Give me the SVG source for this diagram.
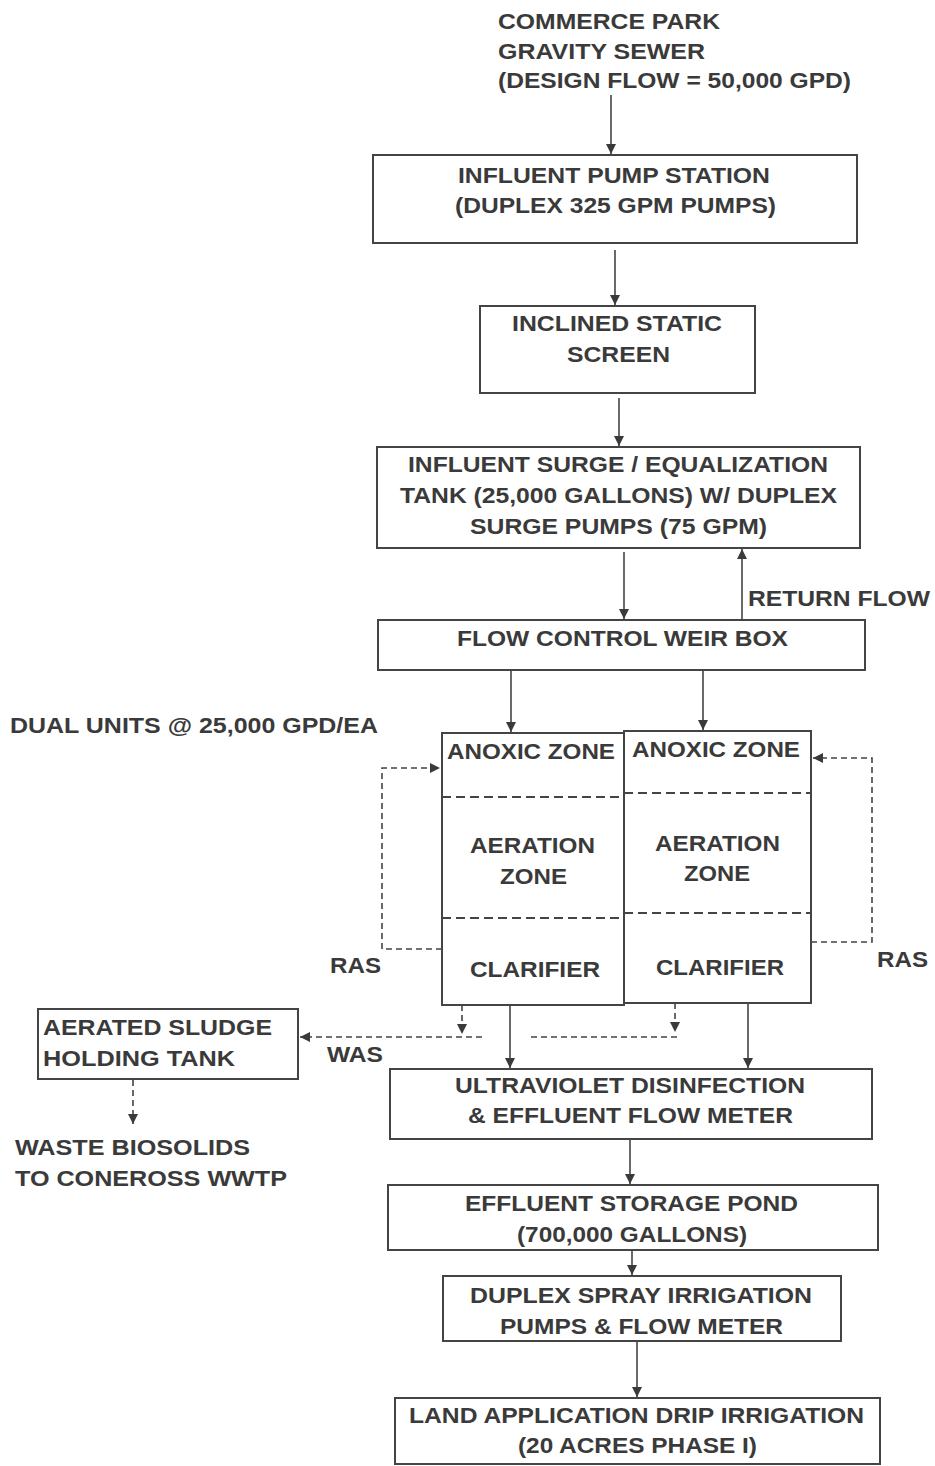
<svg xmlns="http://www.w3.org/2000/svg" width="935" height="1466" viewBox="0 0 935 1466">
<defs>
<marker id="ah" viewBox="0 0 10 10" refX="10" refY="5" markerWidth="10" markerHeight="10" markerUnits="userSpaceOnUse" orient="auto">
<path d="M0,0 L10,5 L0,10 z" fill="#3a3a3a"/>
</marker>
<style>
text{font-family:"Liberation Sans",Arial,sans-serif;font-size:22px;font-weight:700;fill:#3a3a3a}
.box{fill:#fff;stroke:#444;stroke-width:2}
.ln{fill:none;stroke:#444;stroke-width:1.6}
.dl{fill:none;stroke:#444;stroke-width:1.6;stroke-dasharray:6,4}
.zd{fill:none;stroke:#444;stroke-width:2;stroke-dasharray:9,5}
</style>
</defs>
<rect width="935" height="1466" fill="#fff"/>

<g id="source">
<text x="498" y="29" textLength="222" lengthAdjust="spacingAndGlyphs">COMMERCE PARK</text>
<text x="498" y="59" textLength="207" lengthAdjust="spacingAndGlyphs">GRAVITY SEWER</text>
<text x="498" y="88" textLength="353" lengthAdjust="spacingAndGlyphs">(DESIGN FLOW = 50,000 GPD)</text>
</g>

<g id="influent-pump-station">
<rect class="box" x="373" y="155" width="484" height="88"/>
<text x="458" y="183" textLength="312" lengthAdjust="spacingAndGlyphs">INFLUENT PUMP STATION</text>
<text x="455" y="213" textLength="321" lengthAdjust="spacingAndGlyphs">(DUPLEX 325 GPM PUMPS)</text>
</g>

<g id="static-screen">
<rect class="box" x="480" y="306" width="275" height="87"/>
<text x="512" y="331" textLength="210" lengthAdjust="spacingAndGlyphs">INCLINED STATIC</text>
<text x="567" y="362" textLength="103" lengthAdjust="spacingAndGlyphs">SCREEN</text>
</g>

<g id="surge-tank">
<rect class="box" x="377" y="447" width="483" height="101"/>
<text x="408" y="472" textLength="420" lengthAdjust="spacingAndGlyphs">INFLUENT SURGE / EQUALIZATION</text>
<text x="400" y="503" textLength="437" lengthAdjust="spacingAndGlyphs">TANK (25,000 GALLONS) W/ DUPLEX</text>
<text x="470" y="534" textLength="297" lengthAdjust="spacingAndGlyphs">SURGE PUMPS (75 GPM)</text>
</g>

<g id="weir-box">
<rect class="box" x="378" y="620" width="487" height="50"/>
<text x="457" y="646" textLength="331" lengthAdjust="spacingAndGlyphs">FLOW CONTROL WEIR BOX</text>
</g>

<g id="dual-units-label">
<text x="10" y="733" textLength="368" lengthAdjust="spacingAndGlyphs">DUAL UNITS @ 25,000 GPD/EA</text>
</g>

<g id="unit-left">
<rect class="box" x="442" y="733" width="182" height="272"/>
<line class="zd" x1="442" y1="797" x2="624" y2="797"/>
<line class="zd" x1="442" y1="918" x2="624" y2="918"/>
<text x="447" y="759" textLength="168" lengthAdjust="spacingAndGlyphs">ANOXIC ZONE</text>
<text x="470" y="853" textLength="125" lengthAdjust="spacingAndGlyphs">AERATION</text>
<text x="500" y="884" textLength="67" lengthAdjust="spacingAndGlyphs">ZONE</text>
<text x="470" y="977" textLength="130" lengthAdjust="spacingAndGlyphs">CLARIFIER</text>
</g>

<g id="unit-right">
<rect class="box" x="624" y="731" width="187" height="272"/>
<line class="zd" x1="624" y1="793" x2="811" y2="793"/>
<line class="zd" x1="624" y1="913" x2="811" y2="913"/>
<text x="632" y="757" textLength="168" lengthAdjust="spacingAndGlyphs">ANOXIC ZONE</text>
<text x="655" y="851" textLength="125" lengthAdjust="spacingAndGlyphs">AERATION</text>
<text x="684" y="881" textLength="66" lengthAdjust="spacingAndGlyphs">ZONE</text>
<text x="656" y="975" textLength="128" lengthAdjust="spacingAndGlyphs">CLARIFIER</text>
</g>

<g id="sludge-tank">
<rect class="box" x="38" y="1009" width="260" height="70"/>
<text x="43" y="1035" textLength="229" lengthAdjust="spacingAndGlyphs">AERATED SLUDGE</text>
<text x="43" y="1066" textLength="192" lengthAdjust="spacingAndGlyphs">HOLDING TANK</text>
</g>

<g id="biosolids">
<text x="15" y="1155" textLength="235" lengthAdjust="spacingAndGlyphs">WASTE BIOSOLIDS</text>
<text x="15" y="1186" textLength="272" lengthAdjust="spacingAndGlyphs">TO CONEROSS WWTP</text>
</g>

<g id="uv">
<rect class="box" x="390" y="1069" width="482" height="70"/>
<text x="455" y="1093" textLength="350" lengthAdjust="spacingAndGlyphs">ULTRAVIOLET DISINFECTION</text>
<text x="468" y="1123" textLength="325" lengthAdjust="spacingAndGlyphs">&amp; EFFLUENT FLOW METER</text>
</g>

<g id="storage-pond">
<rect class="box" x="388" y="1185" width="490" height="65"/>
<text x="465" y="1211" textLength="333" lengthAdjust="spacingAndGlyphs">EFFLUENT STORAGE POND</text>
<text x="517" y="1242" textLength="230" lengthAdjust="spacingAndGlyphs">(700,000 GALLONS)</text>
</g>

<g id="spray-pumps">
<rect class="box" x="443" y="1276" width="398" height="65"/>
<text x="470" y="1303" textLength="342" lengthAdjust="spacingAndGlyphs">DUPLEX SPRAY IRRIGATION</text>
<text x="500" y="1334" textLength="283" lengthAdjust="spacingAndGlyphs">PUMPS &amp; FLOW METER</text>
</g>

<g id="land-application">
<rect class="box" x="395" y="1398" width="485" height="66"/>
<text x="409" y="1423" textLength="455" lengthAdjust="spacingAndGlyphs">LAND APPLICATION DRIP IRRIGATION</text>
<text x="518" y="1453" textLength="239" lengthAdjust="spacingAndGlyphs">(20 ACRES PHASE I)</text>
</g>

<g id="connectors">
<line class="ln" x1="611" y1="95" x2="611" y2="154" marker-end="url(#ah)"/>
<line class="ln" x1="615" y1="250" x2="615" y2="305" marker-end="url(#ah)"/>
<line class="ln" x1="619" y1="398" x2="619" y2="446" marker-end="url(#ah)"/>
<line class="ln" x1="624" y1="552" x2="624" y2="619" marker-end="url(#ah)"/>
<line class="ln" x1="742" y1="619" x2="742" y2="549" marker-end="url(#ah)"/>
<text x="748" y="606" textLength="182" lengthAdjust="spacingAndGlyphs">RETURN FLOW</text>
<line class="ln" x1="511" y1="671" x2="511" y2="732" marker-end="url(#ah)"/>
<line class="ln" x1="703" y1="671" x2="703" y2="730" marker-end="url(#ah)"/>
<polyline class="dl" points="442,949 382,949 382,768 440,768" marker-end="url(#ah)"/>
<text x="330" y="973" textLength="51" lengthAdjust="spacingAndGlyphs">RAS</text>
<polyline class="dl" points="811,942 872,942 872,758 813,758" marker-end="url(#ah)"/>
<text x="877" y="967" textLength="51" lengthAdjust="spacingAndGlyphs">RAS</text>
<line class="dl" x1="462" y1="1005" x2="462" y2="1034" marker-end="url(#ah)"/>
<line class="dl" x1="675" y1="1003" x2="675" y2="1032" marker-end="url(#ah)"/>
<line class="dl" x1="482" y1="1037" x2="300" y2="1037" marker-end="url(#ah)"/>
<line class="dl" x1="531" y1="1037" x2="678" y2="1037"/>
<text x="327" y="1062" textLength="56" lengthAdjust="spacingAndGlyphs">WAS</text>
<line class="ln" x1="510" y1="1005" x2="510" y2="1068" marker-end="url(#ah)"/>
<line class="ln" x1="748" y1="1003" x2="748" y2="1068" marker-end="url(#ah)"/>
<line class="dl" x1="133" y1="1080" x2="133" y2="1124" marker-end="url(#ah)"/>
<line class="ln" x1="630" y1="1140" x2="630" y2="1184" marker-end="url(#ah)"/>
<line class="ln" x1="632" y1="1251" x2="632" y2="1275" marker-end="url(#ah)"/>
<line class="ln" x1="637" y1="1342" x2="637" y2="1397" marker-end="url(#ah)"/>
</g>
</svg>
